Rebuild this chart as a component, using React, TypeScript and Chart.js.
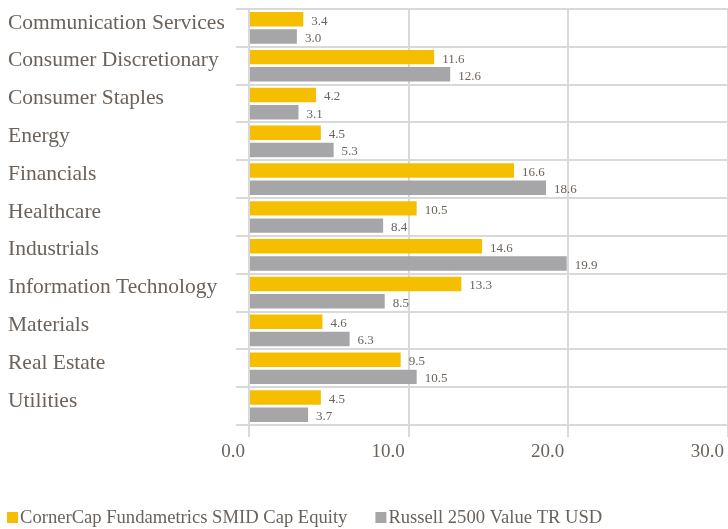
import React, { useEffect, useRef } from "react";
import { Chart, registerables } from "chart.js";

Chart.register(...registerables);

const categories = [
  "Communication Services",
  "Consumer Discretionary",
  "Consumer Staples",
  "Energy",
  "Financials",
  "Healthcare",
  "Industrials",
  "Information Technology",
  "Materials",
  "Real Estate",
  "Utilities",
];
const fundLabel = "CornerCap Fundametrics SMID Cap Equity";
const fundValues = [3.4, 11.6, 4.2, 4.5, 16.6, 10.5, 14.6, 13.3, 4.6, 9.5, 4.5];
const benchLabel = "Russell 2500 Value TR USD";
const benchValues = [3.0, 12.6, 3.1, 5.3, 18.6, 8.4, 19.9, 8.5, 6.3, 10.5, 3.7];
const xTicks = [0, 10, 20, 30];

const FONT = "'Liberation Serif', 'Times New Roman', serif";
const TEXT = "#6b625b";
const GRID = "#d9d9d9";
const YELLOW = "#F5BF00";
const GRAY = "#A6A6A8";

const valueLabels = {
  id: "valueLabels",
  afterDatasetsDraw(chart: any) {
    const ctx = chart.ctx;
    ctx.save();
    ctx.font = `13px ${FONT}`;
    ctx.fillStyle = TEXT;
    ctx.textAlign = "left";
    ctx.textBaseline = "middle";
    chart.data.datasets.forEach((ds: any, di: number) => {
      const meta = chart.getDatasetMeta(di);
      meta.data.forEach((bar: any, i: number) => {
        ctx.fillText(Number(ds.data[i]).toFixed(1), bar.x + 8, bar.y + 2);
      });
    });
    ctx.restore();
  },
};

const customLegend = {
  id: "customLegend",
  afterDraw(chart: any) {
    const ctx = chart.ctx;
    ctx.save();
    ctx.font = `18.6px ${FONT}`;
    ctx.textBaseline = "middle";
    ctx.textAlign = "left";
    const y = 517;
    let x = 7;
    chart.data.datasets.forEach((ds: any) => {
      ctx.fillStyle = ds.backgroundColor;
      ctx.fillRect(x, y - 5, 11, 11);
      ctx.fillStyle = TEXT;
      ctx.fillText(ds.label, x + 13, y + 1);
      x += 13 + ctx.measureText(ds.label).width + 28;
    });
    ctx.restore();
  },
};

export default function App() {
  const ref = useRef<HTMLCanvasElement | null>(null);
  useEffect(() => {
    if (!ref.current) return;
    const chart = new Chart(ref.current, {
      type: "bar",
      data: {
        labels: categories,
        datasets: [
          { label: fundLabel, data: fundValues, backgroundColor: YELLOW, barPercentage: 0.84, categoryPercentage: 0.91 },
          { label: benchLabel, data: benchValues, backgroundColor: GRAY, barPercentage: 0.84, categoryPercentage: 0.91 },
        ],
      },
      options: {
        indexAxis: "y",
        animation: false,
        responsive: true,
        maintainAspectRatio: false,
        layout: { padding: { top: 9, right: -2, bottom: 64, left: 8 } },
        plugins: {
          legend: { display: false },
          tooltip: { enabled: false },
        },
        scales: {
          x: {
            min: 0,
            max: 30,
            afterBuildTicks: (s: any) => {
              s.ticks = xTicks.map((v) => ({ value: v }));
            },
            afterFit: (s: any) => {
              s.height = 40;
              s.paddingLeft = 0;
              s.paddingRight = 0;
              s.paddingTop = 0;
              s.paddingBottom = 0;
            },
            border: { display: false },
            grid: { color: GRID, lineWidth: 2, tickLength: 12, drawTicks: true },
            ticks: {
              align: "end",
              labelOffset: -4,
              padding: 4,
              color: TEXT,
              font: { family: FONT, size: 19 },
              callback: (v: any) => Number(v).toFixed(1),
            },
          },
          y: {
            offset: true,
            afterFit: (s: any) => {
              s.width = 241;
              s.paddingLeft = 0;
              s.paddingRight = 0;
              s.paddingTop = 0;
              s.paddingBottom = 0;
            },
            border: { display: false },
            grid: { color: GRID, lineWidth: 2, tickLength: 13, offset: true },
            ticks: {
              crossAlign: "far",
              labelOffset: -5,
              color: TEXT,
              font: { family: FONT, size: 21.5 },
            },
          },
        },
      },
      plugins: [valueLabels, customLegend],
    });
    return () => chart.destroy();
  }, []);
  return (
    <div style={{ position: "absolute", left: 0, top: 0, width: 728, height: 529 }}>
      <canvas ref={ref} />
    </div>
  );
}
